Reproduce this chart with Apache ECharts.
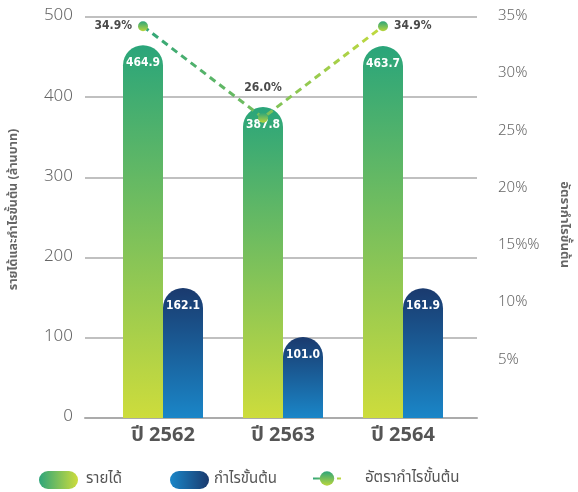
<!DOCTYPE html>
<html><head><meta charset="utf-8">
<script src="https://cdn.jsdelivr.net/npm/echarts@6/dist/echarts.min.js"></script>
<style>html,body{margin:0;padding:0;background:#fff}#c{width:578px;height:492px}</style>
</head><body><div id="c"></div>
<script>
const categories = ['ปี 2562', 'ปี 2563', 'ปี 2564'];
const revenue = [464.9, 387.8, 463.7];
const grossProfit = [162.1, 101.0, 161.9];
const marginPct = [34.9, 26.0, 34.9];
const rightTickLabels = ['0%', '5%', '10%', '15%%', '20%', '25%', '30%', '35%'];
const seriesNames = ['รายได้', 'กำไรขั้นต้น', 'อัตรากำไรขั้นต้น'];
const leftAxisName = 'รายได้และกำไรขั้นต้น (ล้านบาท)';
const rightAxisName = 'อัตรากำไรขั้นต้น';

const FONT = '"Noto Sans Thai", "Noto Sans", "DejaVu Sans", sans-serif';
const NARROW = '"DejaVu Sans Condensed", "Liberation Sans Narrow", "Noto Sans", sans-serif';
const G = echarts.graphic;
const vGrad = (a, b) => new G.LinearGradient(0, 0, 0, 1, [{offset: 0, color: a}, {offset: 1, color: b}]);
const hGrad = (a, b) => new G.LinearGradient(0, 0, 1, 0, [{offset: 0, color: a}, {offset: 1, color: b}]);
const pill = 'path://M9,0 H30 A9,9 0 0 1 30,18 H9 A9,9 0 0 1 9,0 Z';
const linePos = ['left', 'top', 'right'];
const lineDist = [6, 19, 6];

const chart = echarts.init(document.getElementById('c'));
const gridTop = 17, gridBottom = 74;
chart.setOption({
  animation: false,
  backgroundColor: '#fff',
  grid: [
    {left: 80, right: 96, top: gridTop, bottom: gridBottom},
    {left: 103, right: 115, top: gridTop, bottom: gridBottom},
    {left: 83, right: 135, top: gridTop, bottom: gridBottom}
  ],
  xAxis: [
    {gridIndex: 0, type: 'category', data: categories, axisLabel: {show: false}, axisTick: {show: false},
     axisLine: {show: true, lineStyle: {color: '#ababab', width: 2}}},
    {gridIndex: 1, type: 'category', data: categories, axisTick: {show: false}, axisLine: {show: false},
     axisLabel: {color: '#555', fontSize: 20, fontWeight: 'bold', fontFamily: FONT, margin: 9}},
    {gridIndex: 2, type: 'category', data: categories, show: false}
  ],
  yAxis: [
    {gridIndex: 0, type: 'value', min: 0, max: 500, interval: 100,
     axisLine: {show: false}, axisTick: {show: false},
     axisLabel: {color: '#666', fontSize: 17, fontFamily: FONT, fontWeight: 300, margin: 12},
     splitLine: {lineStyle: {color: '#ababab', width: 1.5}},
     name: leftAxisName, nameLocation: 'middle', nameRotate: 90, nameGap: 64,
     nameTextStyle: {color: '#666', fontSize: 12.5, fontWeight: 'bold', fontFamily: FONT, padding: [0, 0, 0, 16]}},
    {gridIndex: 0, type: 'value', position: 'right', min: 0, max: 35, interval: 5,
     axisLine: {show: false}, axisTick: {show: false}, splitLine: {show: false},
     axisLabel: {showMinLabel: false, color: '#666', fontSize: 15, fontFamily: FONT, fontWeight: 300, margin: 21,
       formatter: v => rightTickLabels[Math.round(v / 5)]},
     name: rightAxisName, nameLocation: 'middle', nameRotate: -90, nameGap: 80,
     nameTextStyle: {color: '#666', fontSize: 13, fontWeight: 'bold', fontFamily: FONT, padding: [0, 0, 0, 14]}},
    {gridIndex: 1, type: 'value', min: 0, max: 500, show: false},
    {gridIndex: 2, type: 'value', min: -3.2, max: 35.8, show: false}
  ],
  legend: [
    {left: 34, top: 466, itemWidth: 39, itemHeight: 18, icon: pill,
     data: [{name: seriesNames[0], itemStyle: {color: hGrad('#2ea57a', '#cddc3c')}}],
     textStyle: {color: '#555', fontSize: 15, fontFamily: FONT, padding: [0, 0, 0, 3]}},
    {left: 165, top: 466, itemWidth: 39, itemHeight: 18, icon: pill,
     data: [{name: seriesNames[1], itemStyle: {color: hGrad('#1a86c8', '#1a3a6e')}}],
     textStyle: {color: '#555', fontSize: 15, fontFamily: FONT, padding: [0, 0, 0, 0]}},
    {left: 307, top: 466, itemWidth: 28, itemHeight: 18,
     data: [{name: seriesNames[2], itemStyle: {borderWidth: 0}}],
     textStyle: {color: '#555', fontSize: 15, fontFamily: FONT, padding: [0, 0, 0, 19]}}
  ],
  series: [
    {name: seriesNames[0], type: 'bar', xAxisIndex: 1, yAxisIndex: 2, data: revenue,
     barWidth: 40, barGap: '0%', itemStyle: {color: vGrad('#2aa57a', '#cddc3c'), borderRadius: [20, 20, 0, 0]},
     label: {show: true, position: 'insideTop', distance: 12, color: '#fff', fontSize: 12, fontWeight: 'bold', fontFamily: NARROW,
       formatter: p => p.value.toFixed(1)}},
    {name: seriesNames[1], type: 'bar', xAxisIndex: 1, yAxisIndex: 2, data: grossProfit,
     barWidth: 40, barGap: '0%', itemStyle: {color: vGrad('#1a3a6e', '#1a86c8'), borderRadius: [20, 20, 0, 0]},
     label: {show: true, position: 'insideTop', distance: 12, color: '#fff', fontSize: 12, fontWeight: 'bold', fontFamily: NARROW,
       formatter: p => p.value.toFixed(1)}},
    {name: seriesNames[2], type: 'line', xAxisIndex: 2, yAxisIndex: 3, z: 5,
     data: marginPct.map((v, i) => ({value: v, label: {position: linePos[i], distance: lineDist[i]}})),
     symbol: 'circle', symbolSize: 10,
     itemStyle: {color: vGrad('#2ea57a', '#b9d63c')},
     lineStyle: {type: [7, 5], width: 3, color: hGrad('#2ea57a', '#c3da3c')},
     label: {show: true, color: '#4a4a4a', fontSize: 12, fontWeight: 'bold', fontFamily: NARROW,
       formatter: p => p.value.toFixed(1) + '%'}}
  ]
});
</script></body></html>
